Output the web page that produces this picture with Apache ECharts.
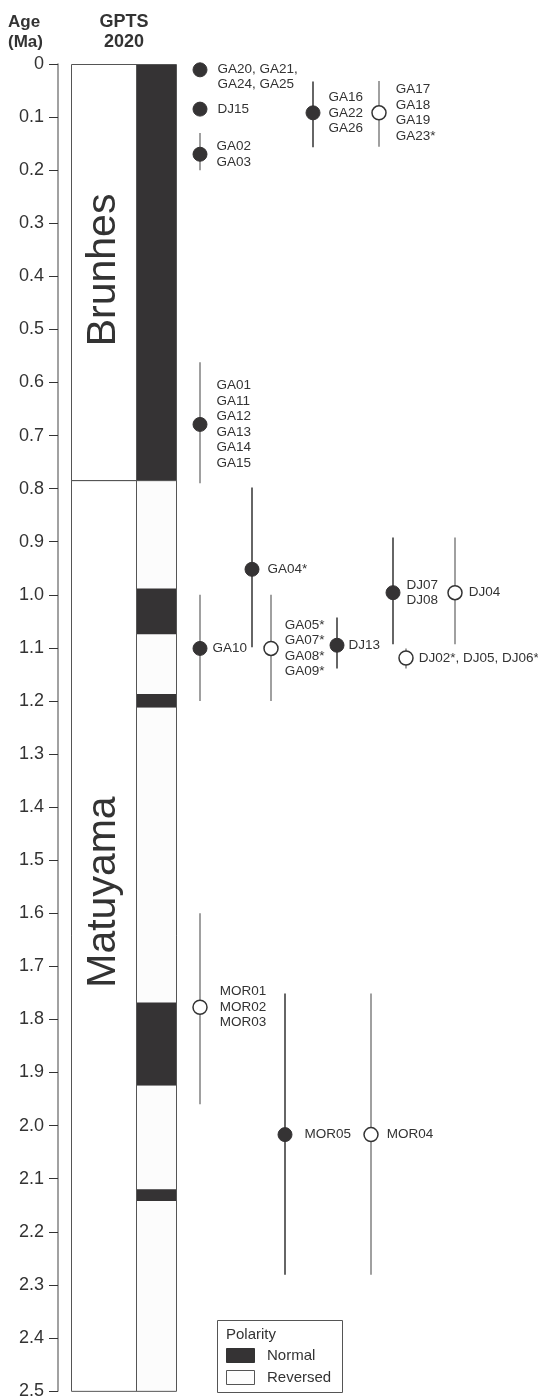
<!DOCTYPE html>
<html>
<head>
<meta charset="utf-8">
<title>GPTS 2020 ages</title>
<style>
    body { margin: 0; background: #fff; }
    #main { width: 538px; height: 1400px; }
</style>
<script src="https://cdn.jsdelivr.net/npm/echarts@6/dist/echarts.min.js"></script>
</head>
<body>
<div id="main"></div>
<script>
// age axis (Ma)
var ageTicks = ['0', '0.1', '0.2', '0.3', '0.4', '0.5', '0.6', '0.7', '0.8', '0.9', '1.0',
    '1.1', '1.2', '1.3', '1.4', '1.5', '1.6', '1.7', '1.8', '1.9', '2.0',
    '2.1', '2.2', '2.3', '2.4', '2.5'];

// chrons: [top, bottom] in Ma, and where the rotated name sits
var chronNames = ['Brunhes', 'Matuyama'];
var chronSpans = [[0, 0.784], [0.784, 2.5]];
var chronLabelAge = [0.388, 1.56];

// GPTS 2020 polarity intervals [top, bottom, normal?]
var polarity = [
    [0, 0.784, 1],
    [0.784, 0.988, 0],
    [0.988, 1.075, 1],
    [1.075, 1.187, 0],
    [1.187, 1.213, 1],
    [1.213, 1.768, 0],
    [1.768, 1.925, 1],
    [1.925, 2.12, 0],
    [2.12, 2.142, 1],
    [2.142, 2.5, 0]
];

// site groups
var siteNames = [
    'GA20, GA21,\nGA24, GA25',
    'DJ15',
    'GA02\nGA03',
    'GA16\nGA22\nGA26',
    'GA17\nGA18\nGA19\nGA23*',
    'GA01\nGA11\nGA12\nGA13\nGA14\nGA15',
    'GA04*',
    'DJ07\nDJ08',
    'DJ04',
    'GA10',
    'GA05*\nGA07*\nGA08*\nGA09*',
    'DJ13',
    'DJ02*, DJ05, DJ06*',
    'MOR01\nMOR02\nMOR03',
    'MOR05',
    'MOR04'
];
var siteLane   = [142, 142, 142, 255, 321, 142, 194, 335, 397, 142, 213, 279, 348, 142, 227, 313];
var siteAge    = [0.011, 0.085, 0.170, 0.092, 0.092, 0.679, 0.952, 0.996, 0.996, 1.101, 1.101, 1.095, 1.119, 1.777, 2.017, 2.017];
var siteAgeMin = [0.011, 0.085, 0.130, 0.033, 0.032, 0.562, 0.798, 0.892, 0.892, 1.000, 1.000, 1.043, 1.101, 1.600, 1.751, 1.751];
var siteAgeMax = [0.011, 0.085, 0.200, 0.157, 0.156, 0.790, 1.099, 1.093, 1.093, 1.200, 1.200, 1.139, 1.139, 1.960, 2.281, 2.281];
var siteNormal = [1, 1, 1, 1, 0, 1, 1, 1, 0, 1, 0, 1, 0, 0, 1, 0];
var barDark    = [0, 0, 0, 1, 0, 0, 1, 1, 0, 0, 0, 1, 0, 0, 1, 0];

var FONT = '"Liberation Sans", Arial, sans-serif';
var DARK = '#353334';

var chronLane = [13, 78];
var polLane = [78, 118];

// gap between dot and its label, where it differs from the default
var labelGap = { 0: 10, 1: 10, 3: 8, 4: 9, 6: 8, 7: 6, 8: 6, 9: 5, 10: 6, 11: 4, 12: 5, 13: 12, 14: 12, 15: 8 };

var myChart = echarts.init(document.getElementById('main'));

// error bars
var barData = siteNames.map(function (n, i) {
    return [siteLane[i], siteAgeMin[i], siteAgeMax[i], barDark[i]];
}).filter(function (d) { return d[2] > d[1]; });

// dots + labels
var dotData = siteNames.map(function (n, i) {
    var item = {
        value: [siteLane[i], siteAge[i]],
        name: n,
        itemStyle: siteNormal[i]
            ? { color: DARK, borderColor: DARK, borderWidth: 1, opacity: 1 }
            : { color: '#fff', borderColor: '#333', borderWidth: 1.5, opacity: 1 },
        label: { distance: labelGap[i] != null ? labelGap[i] : 9 }
    };
    if (i === 0) item.label.offset = [0, 7];
    return item;
});

var option = {
    animation: false,
    grid: { left: 58, top: 64, width: 480, height: 1329 },
    xAxis: { type: 'value', min: 0, max: 480, show: false },
    yAxis: {
        type: 'value',
        inverse: true,
        min: 0,
        max: 2.5,
        interval: 0.1,
        axisLine: { show: true, onZero: false, lineStyle: { color: '#8a8a8a', width: 1.6 } },
        axisTick: { show: true, length: 9, lineStyle: { color: '#333', width: 1 } },
        splitLine: { show: false },
        axisLabel: {
            margin: 14,
            fontFamily: FONT,
            fontSize: 18,
            color: '#333',
            formatter: function (v) { return ageTicks[Math.round(v * 10)]; }
        }
    },
    graphic: [
        { type: 'text', left: 8, top: 12, style: { text: 'Age\n(Ma)', font: 'bold 17px ' + FONT, fill: '#333', lineHeight: 20 } },
        { type: 'text', x: 124, y: 12, style: { text: 'GPTS\n2020', font: 'bold 18px ' + FONT, fill: '#333', lineHeight: 20, align: 'center' } },
        // polarity legend
        { type: 'rect', shape: { x: 217.5, y: 1320.5, width: 125, height: 72 }, style: { fill: '#fff', stroke: '#555', lineWidth: 1 } },
        { type: 'text', x: 226, y: 1335, style: { text: 'Polarity', font: '15px ' + FONT, fill: '#333', verticalAlign: 'middle' } },
        { type: 'rect', shape: { x: 226.5, y: 1348.5, width: 28, height: 14 }, style: { fill: DARK, stroke: '#333', lineWidth: 1 } },
        { type: 'text', x: 267, y: 1356, style: { text: 'Normal', font: '15px ' + FONT, fill: '#333', verticalAlign: 'middle' } },
        { type: 'rect', shape: { x: 226.5, y: 1370.5, width: 28, height: 14 }, style: { fill: '#fdfdfd', stroke: '#555', lineWidth: 1 } },
        { type: 'text', x: 267, y: 1378, style: { text: 'Reversed', font: '15px ' + FONT, fill: '#333', verticalAlign: 'middle' } }
    ],
    series: [
        {
            // polarity column
            type: 'custom',
            data: polarity,
            renderItem: function (params, api) {
                var a = api.coord([polLane[0], api.value(0)]);
                var b = api.coord([polLane[1], api.value(1)]);
                return {
                    type: 'rect',
                    shape: { x: a[0], y: a[1], width: b[0] - a[0], height: b[1] - a[1] },
                    style: { fill: api.value(2) ? DARK : '#fcfcfc' }
                };
            },
            z: 1
        },
        {
            // chron column with names
            type: 'custom',
            data: chronSpans.map(function (s, i) { return [s[0], s[1], chronLabelAge[i]]; }),
            renderItem: function (params, api) {
                var a = api.coord([chronLane[0], api.value(0)]);
                var b = api.coord([chronLane[1], api.value(1)]);
                var c = api.coord([(chronLane[0] + chronLane[1]) / 2, api.value(2)]);
                var p = api.coord([polLane[1], api.value(1)]);
                return {
                    type: 'group',
                    children: [
                        {
                            type: 'rect',
                            shape: { x: Math.round(a[0]) + 0.5, y: Math.round(a[1]) + 0.5, width: b[0] - a[0], height: b[1] - a[1] },
                            style: { fill: 'none', stroke: '#555', lineWidth: 1 }
                        },
                        {
                            type: 'rect',
                            shape: { x: Math.round(b[0]) + 0.5, y: Math.round(a[1]) + 0.5, width: p[0] - b[0], height: p[1] - a[1] },
                            style: { fill: 'none', stroke: '#555', lineWidth: 1 }
                        },
                        {
                            type: 'text',
                            x: c[0],
                            y: c[1],
                            rotation: Math.PI / 2,
                            style: {
                                text: chronNames[params.dataIndex],
                                font: '41px ' + FONT,
                                fill: '#333',
                                align: 'center',
                                verticalAlign: 'middle'
                            }
                        }
                    ]
                };
            },
            z: 2
        },
        {
            // age uncertainty bars
            type: 'custom',
            data: barData,
            renderItem: function (params, api) {
                var a = api.coord([api.value(0), api.value(1)]);
                var b = api.coord([api.value(0), api.value(2)]);
                return {
                    type: 'line',
                    shape: { x1: a[0], y1: a[1], x2: b[0], y2: b[1] },
                    style: { stroke: api.value(3) ? '#333' : '#808080', lineWidth: 1.5 }
                };
            },
            z: 3
        },
        {
            type: 'scatter',
            data: dotData,
            symbol: 'circle',
            symbolSize: 14,
            label: {
                show: true,
                position: 'right',
                fontFamily: FONT,
                fontSize: 13.5,
                lineHeight: 15.5,
                color: '#333',
                formatter: function (p) { return p.name; }
            },
            z: 4
        }
    ]
};

myChart.setOption(option);
</script>
</body>
</html>
